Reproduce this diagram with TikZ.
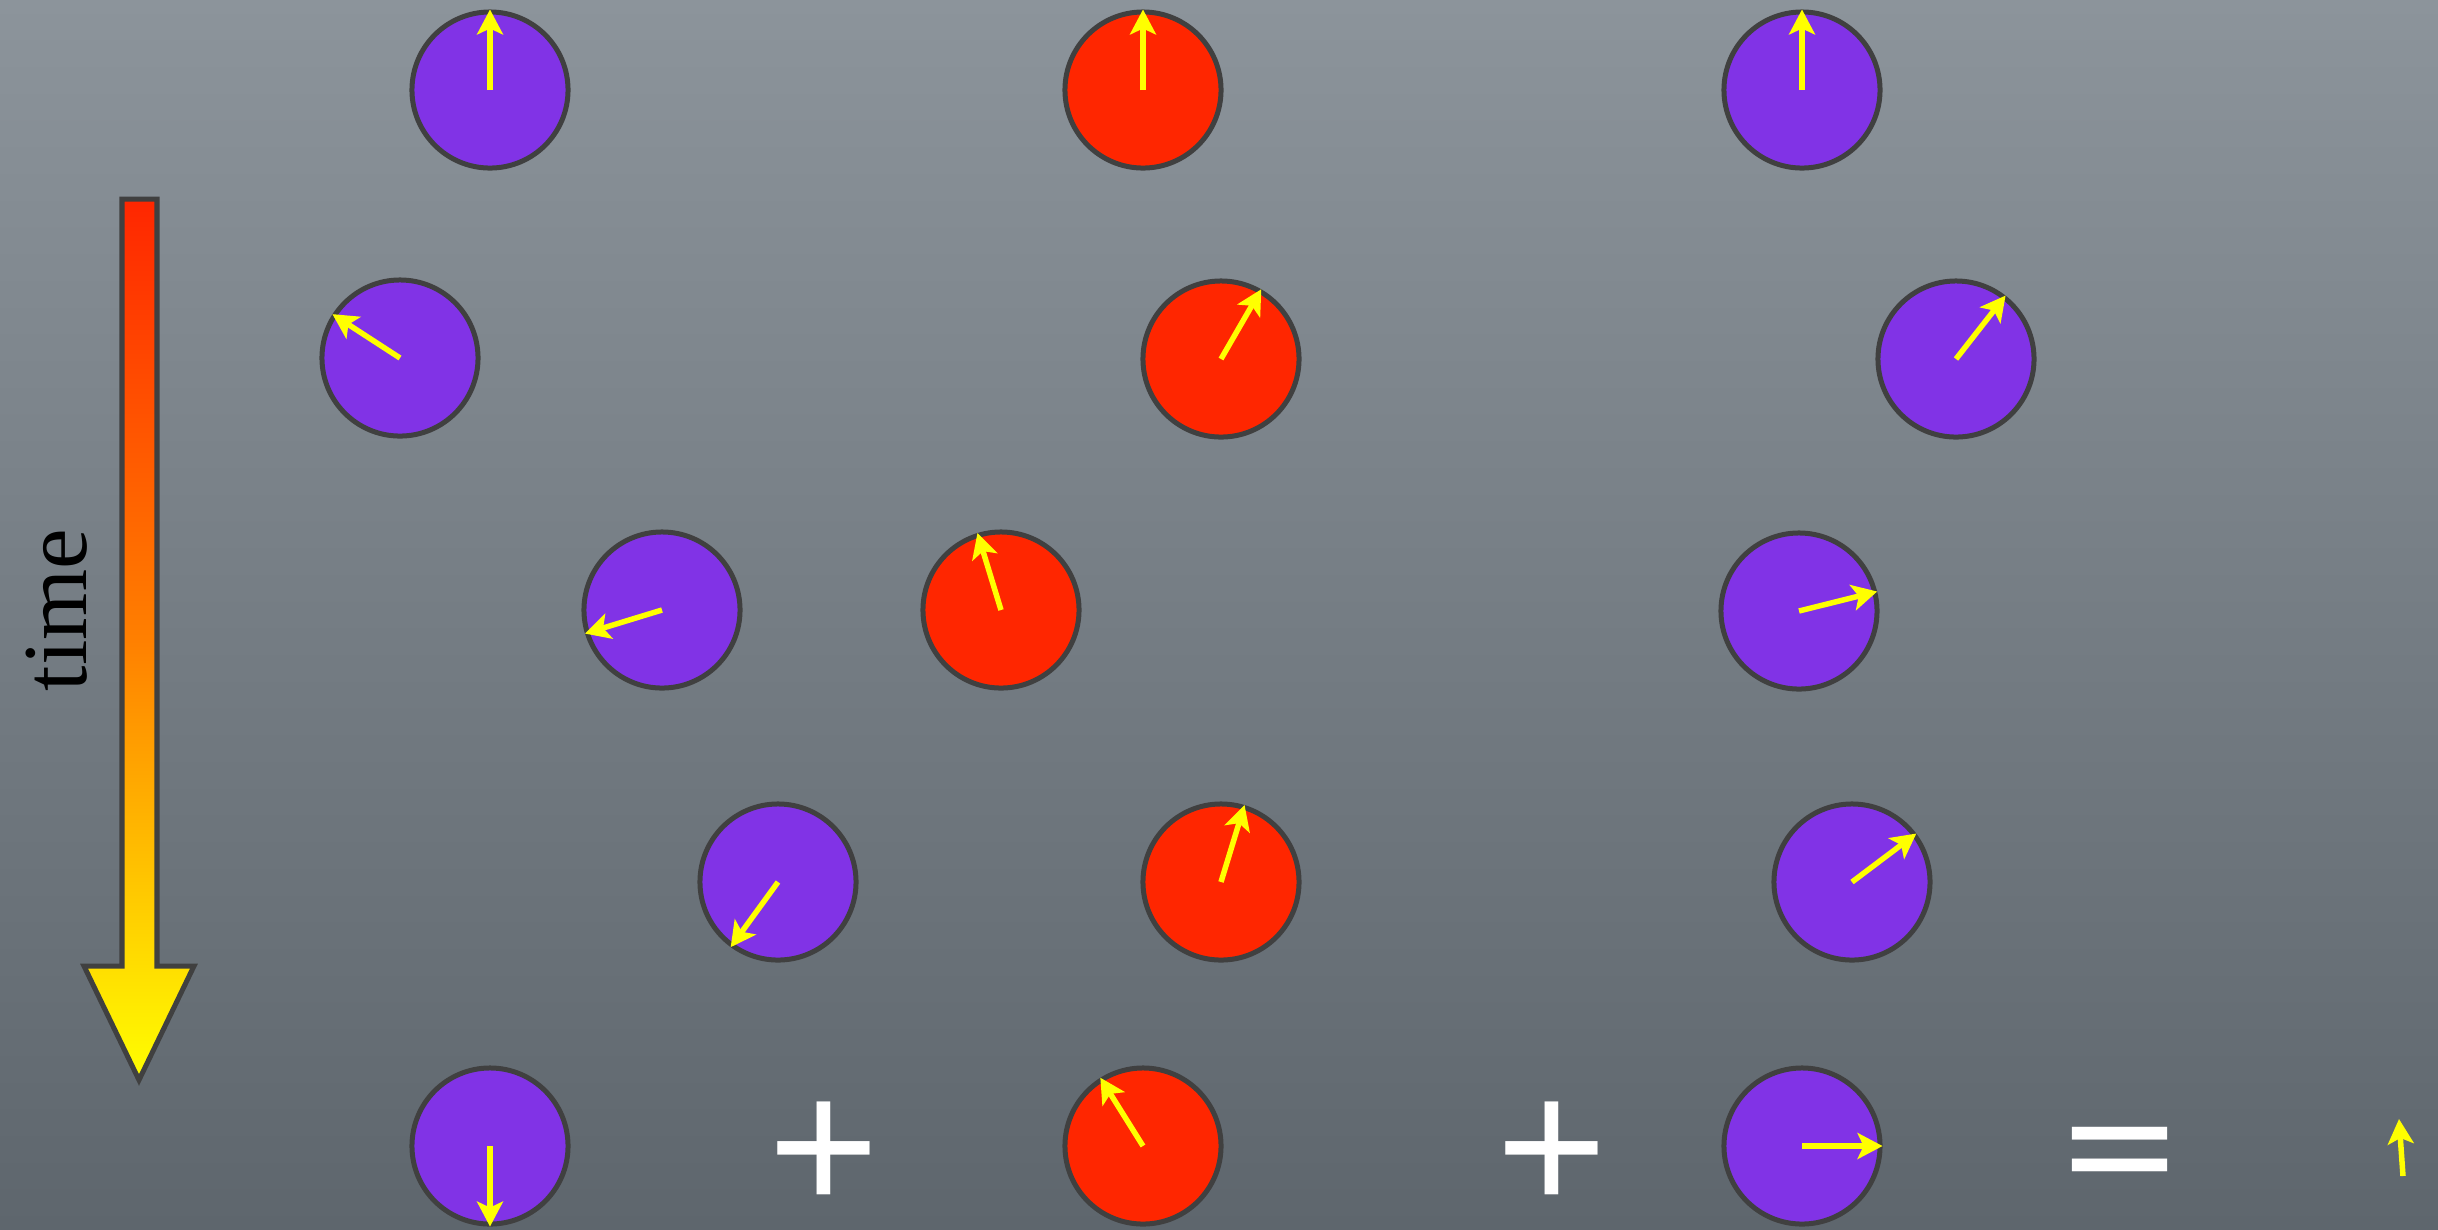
\documentclass[tikz,border=0pt]{standalone}
\usepackage{fontspec}
\setmainfont{Liberation Serif}
\newfontfamily\sansfont{Liberation Sans}
\usetikzlibrary{arrows.meta}

\definecolor{fondoA}{RGB}{140,148,155}
\definecolor{fondoB}{RGB}{94,102,109}
\definecolor{violeta}{RGB}{129,51,230}
\definecolor{rojo}{RGB}{255,38,0}
\definecolor{borde}{RGB}{64,64,64}
\definecolor{amarillo}{RGB}{255,255,0}

\tikzset{
  disco/.style={circle, draw=borde, line width=0.05cm, minimum size=1.56cm, inner sep=0pt},
  fase/.style={draw=amarillo, line width=0.055cm, -{Stealth[length=0.25cm,width=0.26cm,inset=0.06cm]}},
  signo/.style={text=white, font=\sansfont\fontsize{54}{54}\selectfont, inner sep=2pt}
}

\begin{document}
\begin{tikzpicture}[x=0.01cm, y=-0.01cm]
    % Fondo
    \shade[top color=fondoA, bottom color=fondoB] (0,0) rectangle (2438,1229);
    \useasboundingbox (0,0) rectangle (2438,1229);

    % Flecha del tiempo
    \shadedraw[top color=rojo, bottom color=amarillo, middle color=orange, draw=borde, line width=0.05cm]
        (122,199) -- (157,199) -- (157,966) -- (194,966) -- (139,1080)
        -- (84,966) -- (122,966) -- cycle;
    \node[rotate=90, font=\fontsize{26}{26}\selectfont] (tiempo) at (57,610) {time};

    % Primera columna
    \foreach \x/\y/\a [count=\i] in {490/90/90, 400/358/147, 662/610/197, 778/882/234, 490/1146/270}{
        \node[disco, fill=violeta] (a\i) at (\x,\y) {};
        \draw[fase] (a\i.center) -- (a\i.\a);
    }

    % Segunda columna
    \foreach \x/\y/\a [count=\i] in {1143/90/90, 1221/359/60, 1001/610/107, 1221/882/73, 1143/1146/122}{
        \node[disco, fill=rojo] (b\i) at (\x,\y) {};
        \draw[fase] (b\i.center) -- (b\i.\a);
    }

    % Tercera columna
    \foreach \x/\y/\a [count=\i] in {1802/90/90, 1956/359/52, 1799/611/14, 1852/882/37, 1802/1146/0}{
        \node[disco, fill=violeta] (c\i) at (\x,\y) {};
        \draw[fase] (c\i.center) -- (c\i.\a);
    }

    % Suma
    \node[signo] (mas1) at (824,1157) {+};
    \node[signo] (mas2) at (1552,1157) {+};
    \node[signo, yscale=0.62, font=\sansfont\bfseries\fontsize{54}{54}\selectfont] (igual) at (2120,1158) {=};

    % Resultado
    \coordinate (rcola) at (2403,1176);
    \coordinate (rpunta) at (2399,1119);
    \draw[fase] (rcola) -- (rpunta);
\end{tikzpicture}
\end{document}
